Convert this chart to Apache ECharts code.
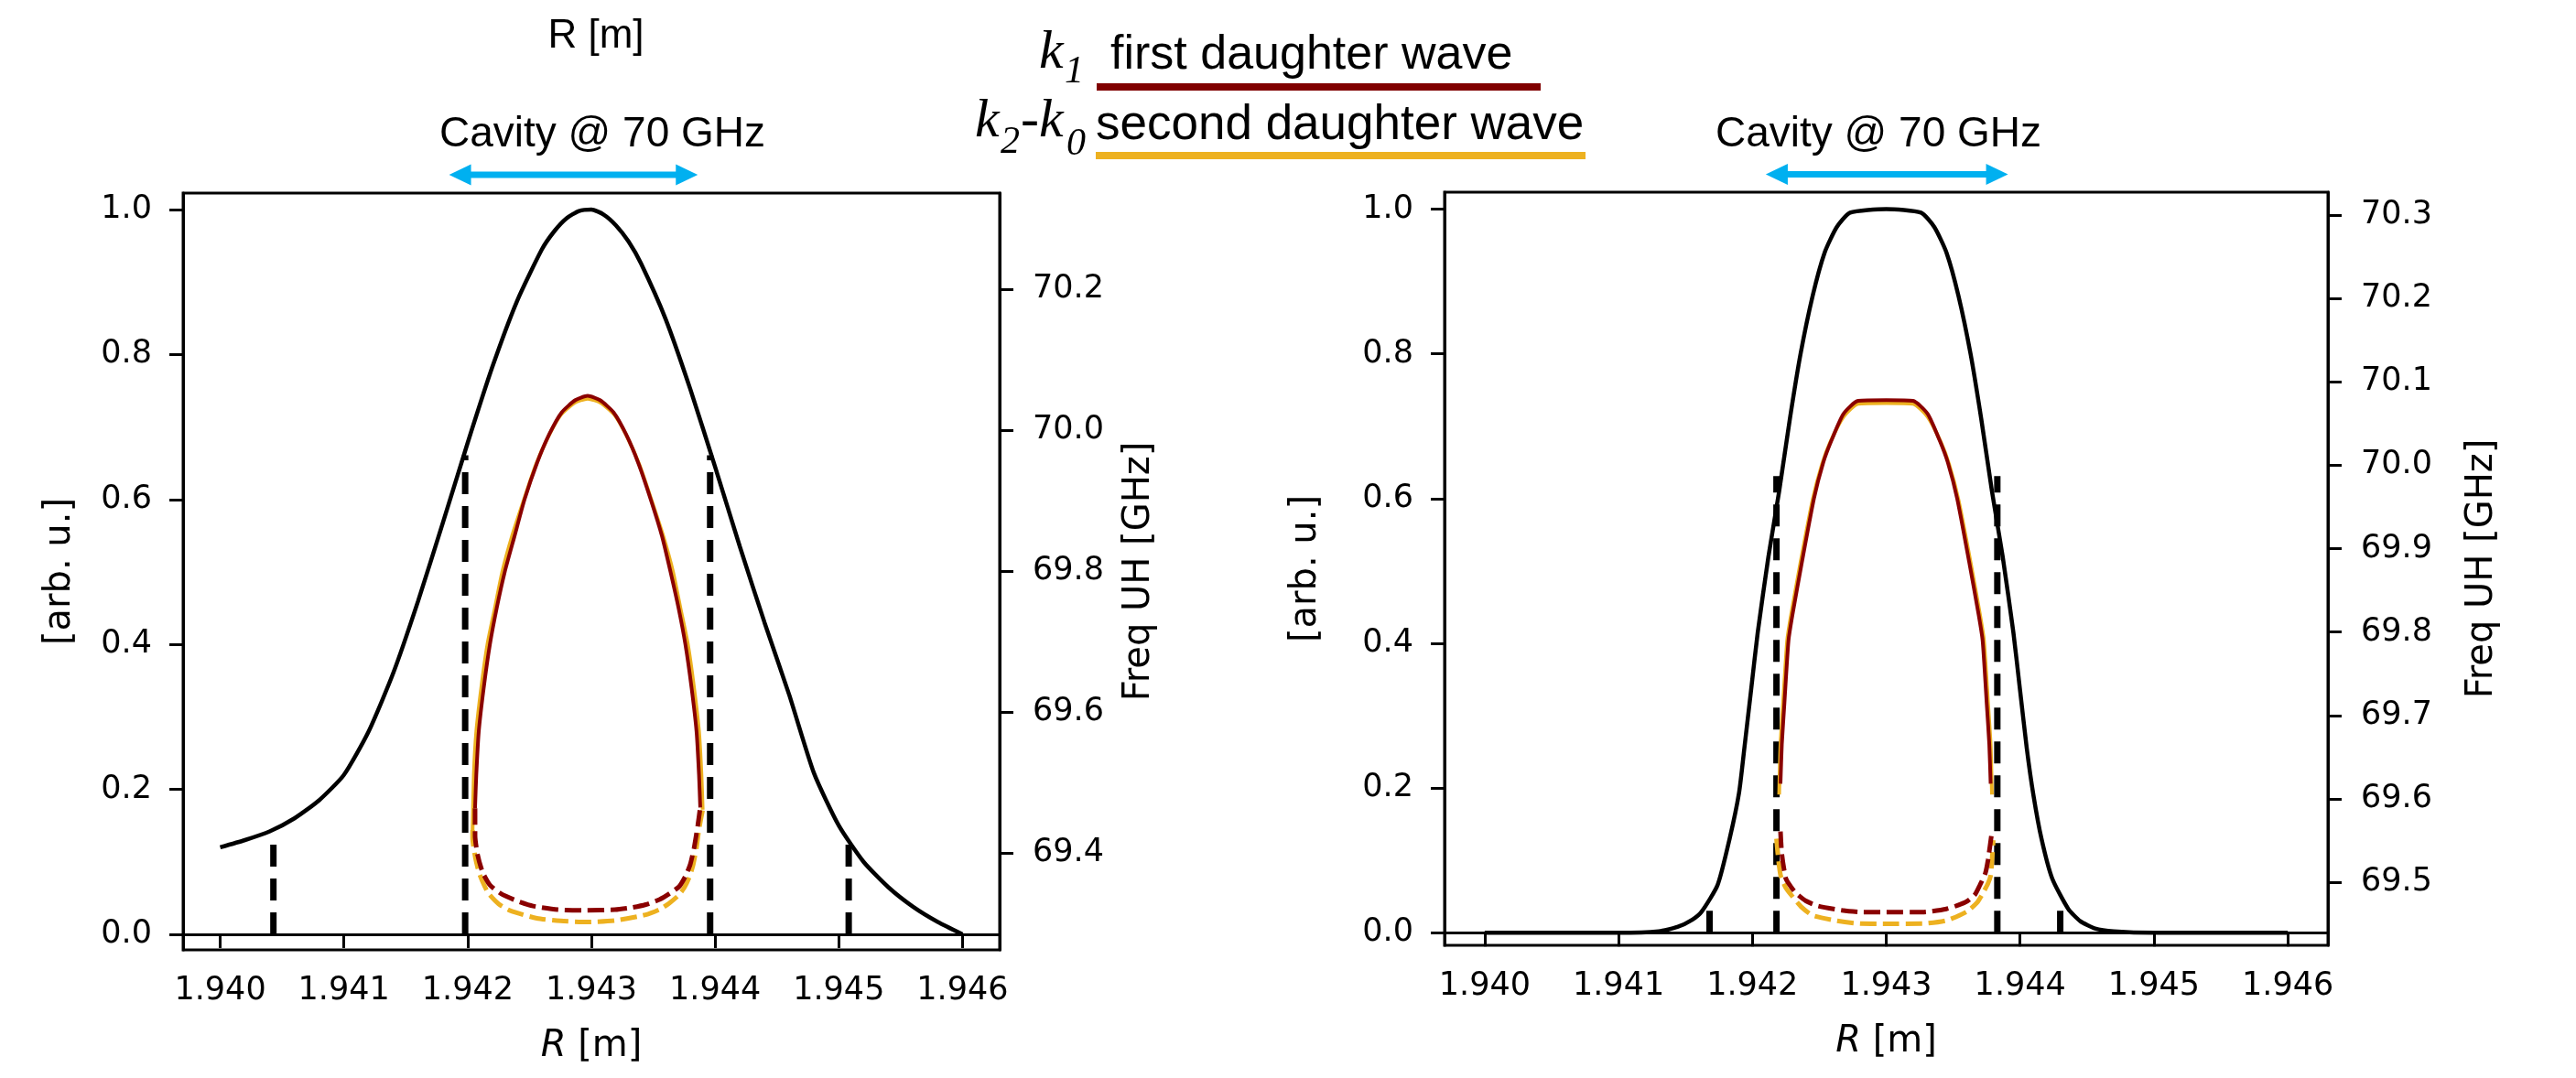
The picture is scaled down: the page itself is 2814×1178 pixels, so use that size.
<!DOCTYPE html>
<html><head><meta charset="utf-8">
<script src="https://cdn.jsdelivr.net/npm/echarts@6/dist/echarts.min.js"></script>
<style>html,body{margin:0;padding:0;background:#fff}#c{width:2814px;height:1178px}</style>
</head><body><div id="c"></div>
<script>
// ---------- tick labels ----------
const xTicks = [1.940, 1.941, 1.942, 1.943, 1.944, 1.945, 1.946];
const arbTicks = [0.0, 0.2, 0.4, 0.6, 0.8, 1.0];
const freqTicksA = [69.4, 69.6, 69.8, 70.0, 70.2];
const freqTicksB = [69.5, 69.6, 69.7, 69.8, 69.9, 70.0, 70.1, 70.2, 70.3];

// ---------- left panel (A) ----------
const blackA = [[1.9400,0.120],[1.9402,0.130],[1.9404,0.142],[1.9406,0.160],[1.9408,0.185],[1.9410,0.220],[1.9412,0.280],[1.9414,0.361],[1.9416,0.460],[1.9418,0.568],[1.9420,0.678],[1.9422,0.783],[1.9424,0.874],[1.9426,0.945],[1.9427,0.970],[1.9428,0.988],[1.9429,0.998],[1.9430,1.000],[1.9431,0.993],[1.9432,0.978],[1.9433,0.956],[1.9434,0.926],[1.9436,0.849],[1.9438,0.752],[1.9440,0.645],[1.9442,0.535],[1.9444,0.430],[1.9446,0.330],[1.9448,0.222],[1.9450,0.150],[1.9452,0.100],[1.9454,0.065],[1.9456,0.038],[1.9458,0.017],[1.9460,0.000]];
const redUpA = [[1.94206,0.174],[1.94207,0.22],[1.94209,0.28],[1.94213,0.34],[1.94218,0.40],[1.942235,0.45],[1.9423,0.50],[1.94238,0.55],[1.94246,0.60],[1.94256,0.65],[1.94266,0.69],[1.94276,0.72],[1.94287,0.737],[1.94297,0.743],[1.94307,0.737],[1.94318,0.72],[1.94328,0.69],[1.94338,0.65],[1.94348,0.60],[1.94357,0.55],[1.94364,0.50],[1.943705,0.45],[1.94376,0.40],[1.94381,0.34],[1.94385,0.28],[1.94387,0.22],[1.94388,0.175]];
const orangeUpA = [[1.94204,0.144],[1.94205,0.22],[1.94207,0.28],[1.94211,0.34],[1.94216,0.40],[1.94222,0.45],[1.94228,0.50],[1.94236,0.55],[1.94245,0.597],[1.94255,0.647],[1.94265,0.686],[1.94275,0.716],[1.94286,0.733],[1.94297,0.739],[1.94308,0.733],[1.94319,0.716],[1.94329,0.686],[1.94339,0.647],[1.94349,0.597],[1.94358,0.55],[1.94366,0.50],[1.94372,0.45],[1.94378,0.40],[1.94383,0.34],[1.94387,0.28],[1.94389,0.22],[1.9439,0.172]];
const redLowA = [[1.94206,0.174],[1.94206,0.136],[1.94208,0.11],[1.94212,0.086],[1.94218,0.068],[1.94227,0.056],[1.9424,0.046],[1.94253,0.039],[1.94273,0.034],[1.94296,0.033],[1.94319,0.034],[1.94333,0.037],[1.94344,0.041],[1.94355,0.048],[1.94363,0.056],[1.94371,0.066],[1.94376,0.08],[1.9438,0.097],[1.94383,0.119],[1.94386,0.15],[1.94388,0.175]];
const orangeLowA = [[1.94204,0.144],[1.94204,0.133],[1.94206,0.108],[1.94209,0.086],[1.94213,0.069],[1.94217,0.056],[1.94225,0.042],[1.94234,0.033],[1.94256,0.022],[1.94275,0.0185],[1.94296,0.017],[1.94319,0.019],[1.94344,0.027],[1.94356,0.035],[1.94363,0.043],[1.9437,0.053],[1.94375,0.064],[1.94379,0.078],[1.94382,0.094],[1.94385,0.12],[1.94387,0.145],[1.9439,0.172]];
const vlinesA = [[1.94043,0.127],[1.94198,0.661],[1.94396,0.661],[1.94508,0.127]];
const cavityA = [1.94185, 1.94386];

// ---------- right panel (B) ----------
const blackB = [[1.9400,0],[1.9410,0],[1.9413,0.002],[1.94144,0.008],[1.94155,0.018],[1.94162,0.029],[1.94174,0.066],[1.94183,0.13],[1.9419,0.193],[1.94194,0.255],[1.94199,0.335],[1.94204,0.415],[1.94212,0.52],[1.9422,0.61],[1.94228,0.71],[1.94236,0.80],[1.94245,0.88],[1.94254,0.94],[1.94263,0.975],[1.94273,0.995],[1.943,1.0],[1.94326,0.995],[1.94336,0.975],[1.94345,0.94],[1.94354,0.88],[1.94363,0.80],[1.94371,0.71],[1.94379,0.61],[1.94387,0.52],[1.94395,0.415],[1.944,0.335],[1.94405,0.255],[1.9441,0.19],[1.94416,0.13],[1.94424,0.075],[1.94436,0.033],[1.94445,0.016],[1.94456,0.006],[1.9447,0.002],[1.9450,0],[1.9460,0]];
const redUpB = [[1.94221,0.206],[1.94222,0.26],[1.94224,0.319],[1.94227,0.404],[1.9423,0.44],[1.94237,0.512],[1.94246,0.6],[1.94253,0.65],[1.94259,0.68],[1.94268,0.717],[1.94279,0.735],[1.943,0.736],[1.9432,0.735],[1.94331,0.717],[1.9434,0.68],[1.94346,0.65],[1.94353,0.6],[1.94362,0.512],[1.94369,0.44],[1.94372,0.404],[1.94375,0.319],[1.94377,0.26],[1.94378,0.206]];
const orangeUpB = [[1.9422,0.191],[1.94221,0.26],[1.94223,0.319],[1.94226,0.404],[1.94229,0.44],[1.94236,0.512],[1.94245,0.598],[1.94252,0.647],[1.94258,0.677],[1.94268,0.713],[1.94279,0.731],[1.943,0.732],[1.9432,0.731],[1.94331,0.713],[1.94341,0.677],[1.94347,0.647],[1.94354,0.598],[1.94363,0.512],[1.9437,0.44],[1.94373,0.404],[1.94376,0.319],[1.94378,0.26],[1.94379,0.191]];
const redLowB = [[1.94221,0.14],[1.94222,0.109],[1.94225,0.075],[1.94229,0.063],[1.94233,0.054],[1.9424,0.044],[1.94249,0.037],[1.94267,0.031],[1.94281,0.0286],[1.943,0.0284],[1.94327,0.0286],[1.94345,0.033],[1.94359,0.042],[1.94366,0.052],[1.9437,0.066],[1.94374,0.082],[1.94376,0.1],[1.94379,0.14]];
const orangeLowB = [[1.94218,0.13],[1.94219,0.109],[1.94221,0.08],[1.94225,0.062],[1.9423,0.05],[1.94237,0.035],[1.94245,0.024],[1.94263,0.0166],[1.94281,0.0126],[1.943,0.0124],[1.94327,0.0126],[1.94345,0.017],[1.9436,0.029],[1.94368,0.042],[1.94372,0.054],[1.94376,0.068],[1.94378,0.079],[1.94379,0.1],[1.9438,0.128]];
const vlinesB = [[1.94168,0.035],[1.94218,0.631],[1.94383,0.631],[1.9443,0.035]];
const cavityB = [1.9421, 1.94391];
const ARROW_LEVEL = 1.048; // height of the cavity arrow in [arb. u.]

// ---------- colours ----------
const RED = '#8a0000', ORANGE = '#EDB120', CYAN = '#00B0F0';
const TICKFONT = 'DejaVu Sans', SANS = 'Liberation Sans', SERIF = 'Liberation Serif';

const chart = echarts.init(document.getElementById('c'), null, {renderer: 'canvas'});

function gridCfg(left, top, width, height) {
  return {left, top, width, height, containLabel: false, outerBoundsMode: 'none',
          show: true, borderColor: '#000', borderWidth: 3, backgroundColor: 'transparent'};
}
function xAxisCfg(gi) {
  return {
    type: 'value', gridIndex: gi, min: 1.9397, max: 1.9463,
    name: '{i|R} [m]', nameLocation: 'middle', nameGap: 86,
    nameTextStyle: {fontFamily: TICKFONT, fontSize: 40, color: '#000',
      rich: {i: {fontFamily: TICKFONT, fontStyle: 'italic', fontSize: 40, color: '#000'}}},
    axisLine: {show: true, lineStyle: {color: '#000', width: 3}},
    axisTick: {show: true, inside: false, length: 15, lineStyle: {color: '#000', width: 3}, customValues: xTicks},
    axisLabel: {show: true, customValues: xTicks, formatter: v => Number(v).toFixed(3),
      fontFamily: TICKFONT, fontSize: 35, color: '#000', margin: 27},
    splitLine: {show: false}
  };
}
function yAxisCfg(gi, pos, min, max, ticks, name, gap, margin) {
  return {
    type: 'value', gridIndex: gi, position: pos, min, max,
    name, nameLocation: 'middle', nameGap: gap, nameRotate: 90,
    nameTextStyle: {fontFamily: TICKFONT, fontSize: 40, color: '#000'},
    axisLine: {show: true, lineStyle: {color: '#000', width: 3}},
    axisTick: {show: true, inside: false, length: 15, lineStyle: {color: '#000', width: 3}, customValues: ticks},
    axisLabel: {show: true, customValues: ticks, formatter: v => Number(v).toFixed(1),
      fontFamily: TICKFONT, fontSize: 35, color: '#000', margin: margin},
    splitLine: {show: false}
  };
}
function line(data, gi, yi, color, width, dash, z) {
  return {type: 'line', xAxisIndex: gi, yAxisIndex: yi, data, showSymbol: false, symbol: 'none',
    smooth: 0.2, z, silent: true, animation: false,
    lineStyle: {color, width, type: dash || 'solid', cap: 'butt'}};
}
function vline(v, gi, yi) {
  return {type: 'line', xAxisIndex: gi, yAxisIndex: yi, data: [[v[0], 0], [v[0], v[1]]],
    showSymbol: false, symbol: 'none', z: 3, silent: true, animation: false,
    lineStyle: {color: '#000', width: 7, type: [24, 13], cap: 'butt'}};
}

const series = [
  line(blackA, 0, 0, '#000', 4.5, null, 2),
  ...vlinesA.map(v => vline(v, 0, 0)),
  line(orangeUpA, 0, 0, ORANGE, 4, null, 4),
  line(orangeLowA, 0, 0, ORANGE, 5, [18, 7], 4),
  line(redUpA, 0, 0, RED, 4, null, 5),
  line(redLowA, 0, 0, RED, 5, [18, 7], 5),
  line(blackB, 1, 2, '#000', 4.5, null, 2),
  ...vlinesB.map(v => vline(v, 1, 2)),
  line(orangeUpB, 1, 2, ORANGE, 4, null, 4),
  line(orangeLowB, 1, 2, ORANGE, 5, [18, 7], 4),
  line(redUpB, 1, 2, RED, 4, null, 5),
  line(redLowB, 1, 2, RED, 5, [18, 7], 5)
];
const firstSeriesB = 1 + vlinesA.length + 4; // index of blackB

function txt(text, x, y, font, align) {
  return {type: 'text', silent: true, z: 10,
    style: {text, x, y, font, fill: '#000', align: align || 'left', textAlign: align || 'left',
            verticalAlign: 'middle', textVerticalAlign: 'middle'}};
}
function bar(x1, x2, y, h, color) {
  return {type: 'rect', silent: true, z: 10, shape: {x: x1, y: y - h / 2, width: x2 - x1, height: h}, style: {fill: color}};
}

const textGraphics = [
  txt('R [m]', 651, 40, '44px "' + SANS + '"', 'center'),
  txt('Cavity @ 70 GHz', 658, 147, '46px "' + SANS + '"', 'center'),
  txt('Cavity @ 70 GHz', 2052, 147, '46px "' + SANS + '"', 'center'),
  // legend row 1
  txt('k', 1135, 58, 'italic 60px "' + SERIF + '"'),
  txt('1', 1163, 79, 'italic 42px "' + SERIF + '"'),
  txt('first daughter wave', 1213, 61, '52px "' + SANS + '"'),
  bar(1198, 1683, 95, 8, '#800000'),
  // legend row 2
  txt('k', 1065, 133, 'italic 60px "' + SERIF + '"'),
  txt('2', 1093, 156, 'italic 42px "' + SERIF + '"'),
  txt('-', 1115, 133, '60px "' + SERIF + '"'),
  txt('k', 1135, 133, 'italic 60px "' + SERIF + '"'),
  txt('0', 1165, 158, 'italic 42px "' + SERIF + '"'),
  txt('second daughter wave', 1197, 137, '53px "' + SANS + '"'),
  bar(1197, 1732, 170, 8, ORANGE)
];

chart.setOption({
  animation: false,
  backgroundColor: '#fff',
  grid: [gridCfg(200, 211, 892, 827), gridCfg(1578, 210, 965, 823)],
  xAxis: [xAxisCfg(0), xAxisCfg(1)],
  yAxis: [
    yAxisCfg(0, 'left', -0.0215, 1.0227, arbTicks, '[arb. u.]', 114, 34),
    yAxisCfg(0, 'right', 69.2623, 70.3364, freqTicksA, 'Freq UH [GHz]', 133, 36),
    yAxisCfg(1, 'left', -0.0173, 1.0234, arbTicks, '[arb. u.]', 131, 34),
    yAxisCfg(1, 'right', 69.4243, 70.3274, freqTicksB, 'Freq UH [GHz]', 149, 36)
  ],
  series
});

// cavity double arrows placed through the axes' own scales
function arrowGraphics(cav, seriesIndex) {
  const a = chart.convertToPixel({seriesIndex}, [cav[0], ARROW_LEVEL]);
  const b = chart.convertToPixel({seriesIndex}, [cav[1], ARROW_LEVEL]);
  const y = a[1], L = 24, H = 11.5;
  return [
    {type: 'rect', silent: true, z: 10, shape: {x: a[0] + L - 2, y: y - 3.5, width: b[0] - a[0] - 2 * L + 4, height: 7}, style: {fill: CYAN}},
    {type: 'polygon', silent: true, z: 10, shape: {points: [[a[0], y], [a[0] + L, y - H], [a[0] + L, y + H]]}, style: {fill: CYAN}},
    {type: 'polygon', silent: true, z: 10, shape: {points: [[b[0], y], [b[0] - L, y - H], [b[0] - L, y + H]]}, style: {fill: CYAN}}
  ];
}
chart.setOption({graphic: textGraphics.concat(arrowGraphics(cavityA, 0), arrowGraphics(cavityB, firstSeriesB))});
</script></body></html>
